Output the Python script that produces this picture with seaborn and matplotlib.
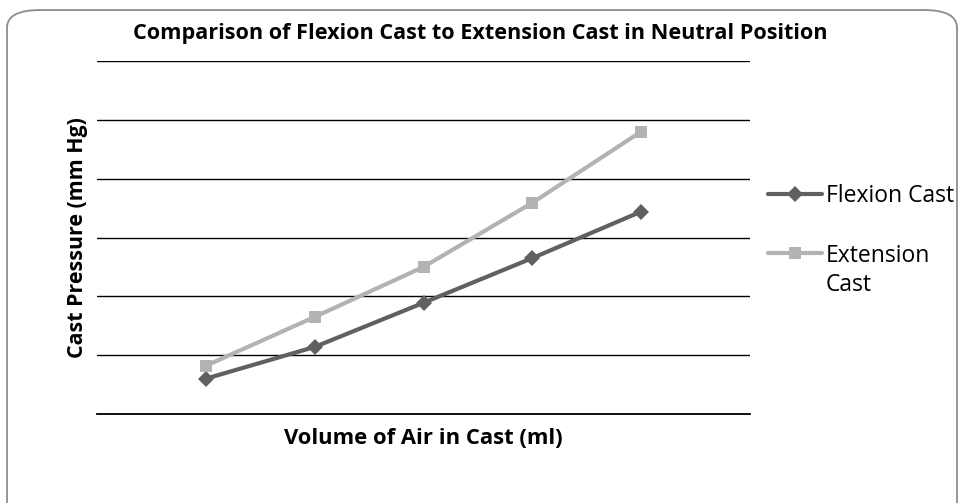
import matplotlib
matplotlib.use("Agg")
import matplotlib.pyplot as plt
import seaborn as sns
import pandas as pd
from matplotlib.patches import FancyBboxPatch

# ---- data (units = gridline steps of 10) ----
volume_steps = [1, 2, 3, 4, 5]
flexion = [6.0, 11.4, 18.9, 26.5, 34.4]
extension = [8.2, 16.5, 25.0, 35.9, 48.0]
series_names = ["Flexion Cast", "Extension Cast"]

df = pd.DataFrame({
    "step": volume_steps * 2,
    "pressure": flexion + extension,
    "series": [series_names[0]] * 5 + [series_names[1]] * 5,
})

sns.set_theme(style="white")
plt.rcParams["font.family"] = ["Open Sans", "DejaVu Sans"]
plt.rcParams["text.color"] = "black"
plt.rcParams["axes.labelcolor"] = "black"

fig = plt.figure(figsize=(9.61, 5.03), dpi=100)
ax = fig.add_axes([97 / 961, 1 - 414 / 503, (750 - 97) / 961, (414 - 61) / 503])

palette = {series_names[0]: "#606060", series_names[1]: "#b3b3b3"}
markers = {series_names[0]: "D", series_names[1]: "s"}
sns.lineplot(data=df, x="step", y="pressure", hue="series", style="series",
             palette=palette, markers=markers, dashes=False, ax=ax,
             linewidth=3.0, markersize=8, markeredgewidth=0, legend=True)

ax.set_xlim(0, 6)
ax.set_ylim(0, 60)
ax.set_yticks(range(0, 61, 10))
ax.set_xticks([])
ax.tick_params(left=False, labelleft=False, bottom=False, labelbottom=False)
ax.yaxis.grid(True, color="black", linewidth=1.0)
ax.xaxis.grid(False)
for s in ["top", "right", "left"]:
    ax.spines[s].set_visible(False)
ax.spines["bottom"].set_color("black")
ax.spines["bottom"].set_linewidth(1.3)
ax.set_axisbelow(True)

ax.set_xlabel("Volume of Air in Cast (ml)", fontsize=15.8, fontweight="bold", va="center")
ax.xaxis.set_label_coords(0.5, (414 - 438) / 353)
ax.set_ylabel("Cast Pressure (mm Hg)", fontsize=15.4, fontweight="bold", va="center")
ax.yaxis.set_label_coords((78 - 97) / 653, 0.5)

fig.text(480 / 961, 1 - 33 / 503, "Comparison of Flexion Cast to Extension Cast in Neutral Position",
         ha="center", va="center", fontsize=15.6, fontweight="bold")

LFS = 16.5
handles, labels = ax.get_legend_handles_labels()
leg = ax.legend(handles, ["Flexion Cast", "Extension"], loc="upper left",
                bbox_to_anchor=(768 / 961, 1 - 184 / 503),
                bbox_transform=fig.transFigure, frameon=False, fontsize=LFS,
                handlelength=2.35, handletextpad=0.18, labelspacing=1.55,
                borderpad=0, borderaxespad=0)
fig.canvas.draw()
ext_txt = leg.get_texts()[1]
bb = ext_txt.get_window_extent()
fig.text(bb.x0 / 961, 1 - 285 / 503, "Cast", ha="left", va="center", fontsize=LFS)

# rounded border of the chart area
box = FancyBboxPatch((7 / 961, -20 / 503), 950 / 961, (503 - 10 + 20) / 503,
                     boxstyle="round,pad=0,rounding_size=0.035",
                     transform=fig.transFigure, fill=False,
                     edgecolor="#8c8c8c", linewidth=1.3)
fig.patches.append(box)

fig.savefig("out.png", dpi=100)
